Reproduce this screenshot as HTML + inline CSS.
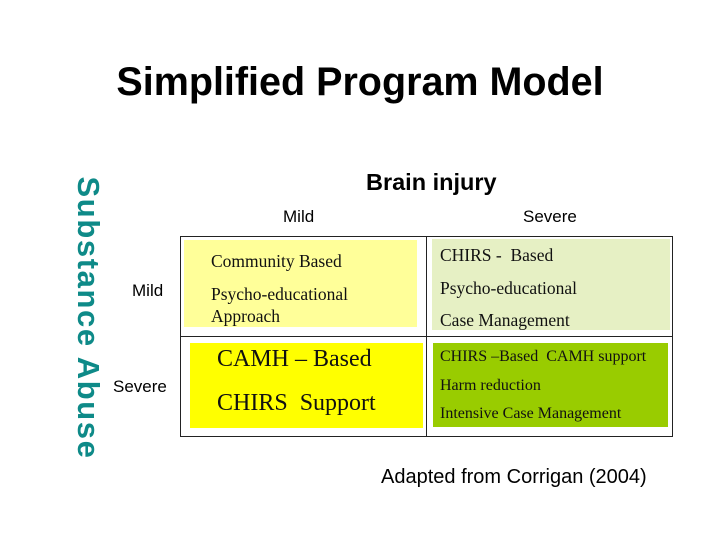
<!DOCTYPE html>
<html><head><meta charset="utf-8"><style>
body{margin:0;width:720px;height:540px;background:#fff;position:relative;overflow:hidden;font-family:"Liberation Sans",sans-serif}
.a{position:absolute;white-space:nowrap}
.s{font-family:"Liberation Serif",serif;color:#111}
.b{position:absolute}
</style></head><body>
<div class="a" style="left:0;width:720px;text-align:center;top:60px;font-size:39.5px;font-weight:bold">Simplified Program Model</div>
<div class="a" style="left:88px;top:318px;transform:translate(-50%,-50%) rotate(90deg);font-size:31px;font-weight:bold;color:#0e8a88;letter-spacing:1.6px">Substance Abuse</div>
<div class="a" style="left:366px;top:169px;font-size:23.5px;font-weight:bold">Brain injury</div>
<div class="a" style="left:283px;top:207px;font-size:17px">Mild</div>
<div class="a" style="left:523px;top:207px;font-size:17px">Severe</div>
<div class="a" style="left:132px;top:281px;font-size:17px">Mild</div>
<div class="a" style="left:113px;top:377px;font-size:17px">Severe</div>
<div class="b" style="left:180px;top:236px;width:493px;height:201px;border:1px solid #222;box-sizing:border-box"></div>
<div class="b" style="left:426px;top:236px;width:1px;height:201px;background:#222"></div>
<div class="b" style="left:180px;top:336px;width:493px;height:1px;background:#222"></div>
<div class="b" style="left:184px;top:240px;width:233px;height:87px;background:#ffff99"></div>
<div class="b" style="left:432px;top:239px;width:238px;height:91px;background:#e6f0c4"></div>
<div class="b" style="left:190px;top:343px;width:233px;height:85px;background:#ffff00"></div>
<div class="b" style="left:433px;top:343px;width:235px;height:84px;background:#99cc00"></div>
<div class="a s" style="left:211px;top:251px;font-size:17.5px">Community Based</div>
<div class="a s" style="left:211px;top:283px;font-size:17.5px;line-height:22px">Psycho-educational<br>Approach</div>
<div class="a s" style="left:440px;top:245px;font-size:17.5px">CHIRS -&nbsp; Based</div>
<div class="a s" style="left:440px;top:278px;font-size:17.5px">Psycho-educational</div>
<div class="a s" style="left:440px;top:310px;font-size:17.5px">Case Management</div>
<div class="a s" style="left:217px;top:346px;font-size:24px">CAMH – Based</div>
<div class="a s" style="left:217px;top:390px;font-size:24px">CHIRS&nbsp; Support</div>
<div class="a s" style="left:440px;top:348px;font-size:16px">CHIRS –Based&nbsp; CAMH support</div>
<div class="a s" style="left:440px;top:377px;font-size:16px">Harm reduction</div>
<div class="a s" style="left:440px;top:405px;font-size:16px">Intensive Case Management</div>
<div class="a" style="left:381px;top:466px;font-size:20px">Adapted from Corrigan (2004)</div>
</body></html>
